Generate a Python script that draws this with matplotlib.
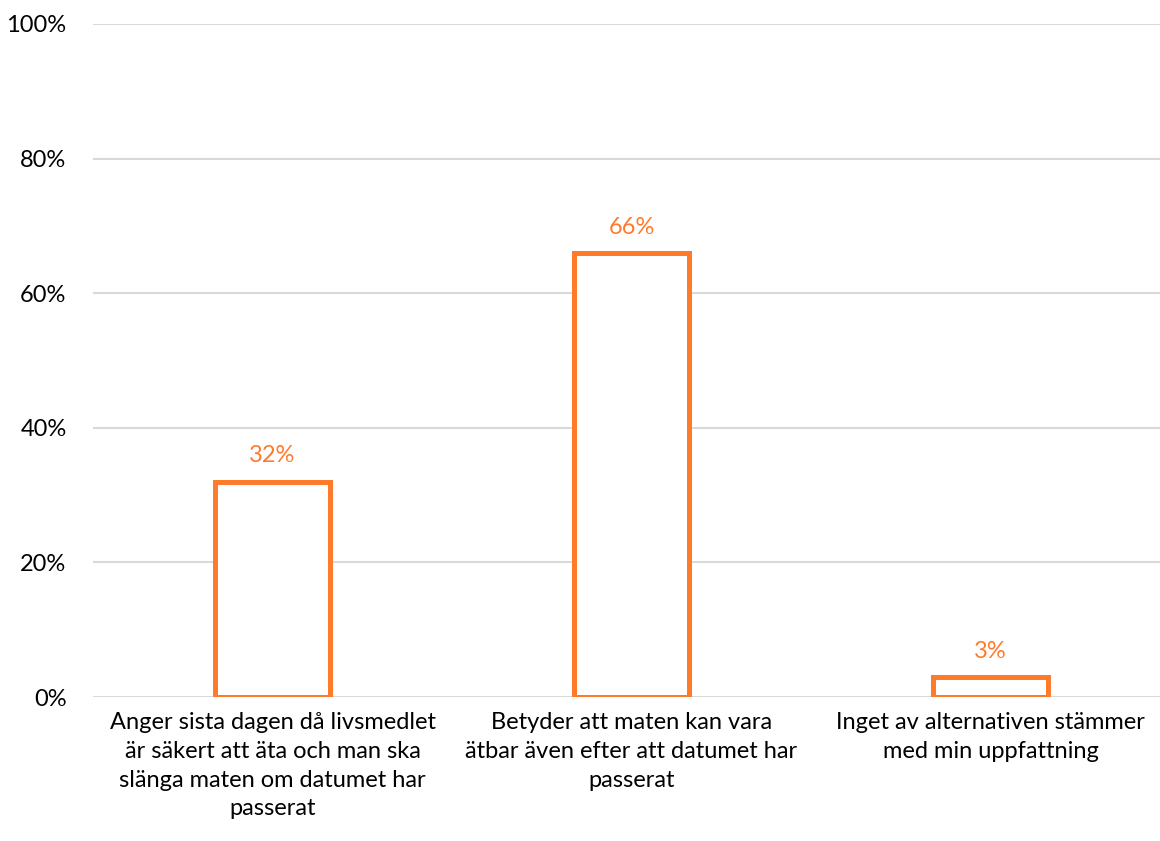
import matplotlib
matplotlib.use("Agg")
import matplotlib.pyplot as plt
from matplotlib.ticker import FixedLocator, FuncFormatter

plt.rcParams['font.family'] = ['Lato', 'DejaVu Sans']

categories = [
    "Anger sista dagen då livsmedlet\när säkert att äta och man ska\nslänga maten om datumet har\npasserat",
    "Betyder att maten kan vara\nätbar även efter att datumet har\npasserat",
    "Inget av alternativen stämmer\nmed min uppfattning",
]
values = [32, 66, 3]
y_ticks = [0, 20, 40, 60, 80, 100]

orange = "#FF7B2C"
grid_color = "#D9D9D9"

W, H = 1160, 841
fig = plt.figure(figsize=(W / 100, H / 100), dpi=100)
left, right = 93, 1170
top, bottom = 24, 697
ax = fig.add_axes([left / W, 1 - bottom / H, (right - left) / W, (bottom - top) / H])

x = range(len(categories))
bars = ax.bar(x, values, width=0.32, facecolor="white", edgecolor=orange,
              linewidth=3.6, zorder=3)

for b, v in zip(bars, values):
    ax.annotate(f"{v:.0f}%", (b.get_x() + b.get_width() / 2, v),
                xytext=(0, 11), textcoords="offset points",
                ha="center", va="bottom", color=orange, fontsize=17)

ax.set_xlim(-0.5, 2.5)
ax.set_ylim(0, 100)
ax.yaxis.set_major_locator(FixedLocator(y_ticks))
ax.yaxis.set_major_formatter(FuncFormatter(lambda v, p: f"{v:.0f}%"))
ax.set_xticks(list(x))
ax.set_xticklabels(categories, fontsize=17, linespacing=1.45, va="top")
ax.tick_params(axis="y", length=0, pad=19, labelsize=17, labelcolor="black")
ax.tick_params(axis="x", length=0, pad=11, labelcolor="black")

ax.grid(axis="y", color=grid_color, linewidth=1.5, zorder=0)
for s in ax.spines.values():
    s.set_visible(False)

fig.savefig("out.png", dpi=100, facecolor="white")
